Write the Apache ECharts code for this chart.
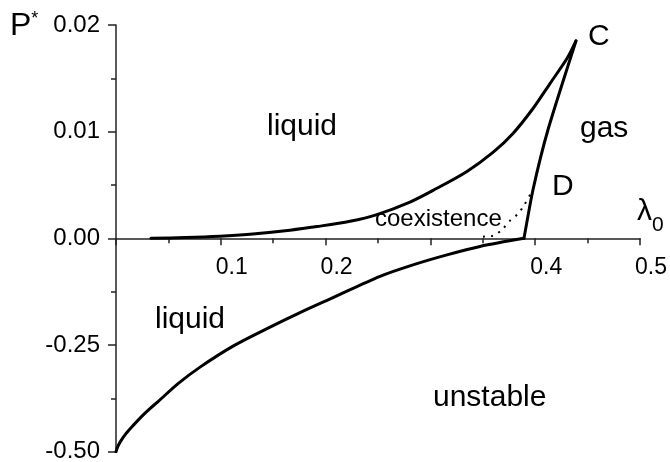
<!DOCTYPE html>
<html><head><meta charset="utf-8">
<script src="https://cdn.jsdelivr.net/npm/echarts@6/dist/echarts.min.js"></script>
<style>html,body{margin:0;padding:0;background:#fff}#c{width:670px;height:462px}</style>
</head><body><div id="c"></div>
<script>
// liquid / coexistence boundary (upper curve), lambda_0 and P*
var upperLam = [0.0334,0.0658,0.0992,0.1279,0.1660,0.1918,0.2233,0.2490,0.2805,0.3025,0.3349,0.3597,0.3788,0.3979,0.4141,0.4303,0.4389];
var upperP   = [0,0.000075,0.000206,0.000393,0.000768,0.001105,0.001600,0.002230,0.003400,0.004494,0.006273,0.008052,0.009831,0.012172,0.014513,0.016854,0.018511];
// gas boundary (C down to the spinodal point)
var gasLam = [0.4389,0.4122,0.3979,0.3893];
var gasP   = [0.0185,0.01018,0.00456,0];
// dotted boundary near D
var dotLam = [0.3502,0.3597,0.3683,0.376,0.3836,0.3893,0.3979];
var dotP   = [0.00016,0.00025,0.00081,0.00166,0.0023,0.0031,0.00456];
// liquid / unstable boundary (negative pressure)
var lowerLam = [0,0.0019,0.0048,0.0095,0.0162,0.0248,0.0324,0.0401,0.0592,0.0802,0.1117,0.1441,0.1756,0.2071,0.2519,0.2834,0.3158,0.3473,0.3893];
var lowerP   = [-0.5,-0.4869,-0.474,-0.4576,-0.4389,-0.4166,-0.399,-0.3826,-0.3405,-0.3018,-0.2526,-0.2116,-0.1741,-0.1389,-0.089,-0.0621,-0.0387,-0.019,0];
// y tick labels (piecewise scale: upper half 0..0.02, lower half 0..-0.50)
var yTickVals = [-2,-1,0,1,2];
var yTickLabels = ['-0.50','-0.25','0.00','0.01','0.02'];
var xHidden = [0,0.3];

function ty(p){ return p >= 0 ? p/0.01 : p/0.25; }
function pts(l, p){ return l.map(function(v,i){ return [v, ty(p[i])]; }); }

var FONT = '"Liberation Sans", Arial, sans-serif';
var chart = echarts.init(document.getElementById('c'));
var lineCommon = {type:'line', symbol:'none', smooth:0.3, lineStyle:{color:'#000', width:3, join:'round', cap:'round'}, silent:true, animation:false};

function txt(s, x, y, size){
  return {type:'text', x:x, y:y, style:{text:s, font: size+'px '+FONT, fill:'#000', textAlign:'left', textVerticalAlign:'middle'}};
}

var GRID_TOP = 25, GRID_BOTTOM = 10.3, H = 462;
var plotH = H - GRID_TOP - GRID_BOTTOM;

chart.setOption({
  animation:false,
  grid:{left:116, right:30, top:GRID_TOP, bottom:GRID_BOTTOM, containLabel:false, outerBoundsMode:'none'},
  xAxis:{type:'value', min:0, max:0.5, interval:0.1, position:'bottom', offset:-plotH/2,
    axisLine:{onZero:false, lineStyle:{color:'#222', width:1.5}},
    axisTick:{show:true, length:7, lineStyle:{color:'#222', width:1.5}},
    minorTick:{show:true, splitNumber:2, length:5, lineStyle:{color:'#222', width:1.5}},
    splitLine:{show:false},
    axisLabel:{fontFamily:FONT, fontSize:23, color:'#000', margin:18, padding:[0,0,0,22],
      formatter:function(v){ for(var i=0;i<xHidden.length;i++){ if(Math.abs(v-xHidden[i])<1e-9) return ''; } return v.toFixed(1); }}
  },
  yAxis:{type:'value', min:-2, max:2, interval:1,
    axisLine:{onZero:false, lineStyle:{color:'#222', width:1.5}},
    axisTick:{show:true, length:8, lineStyle:{color:'#222', width:1.5}},
    minorTick:{show:true, splitNumber:2, length:5, lineStyle:{color:'#222', width:1.5}},
    splitLine:{show:false},
    axisLabel:{fontFamily:FONT, fontSize:24, color:'#000', margin:16,
      formatter:function(v){ var i=yTickVals.indexOf(Math.round(v)); return i>=0 ? yTickLabels[i] : ''; }}
  },
  series:[
    Object.assign({}, lineCommon, {data:pts(upperLam, upperP)}),
    Object.assign({}, lineCommon, {data:pts(gasLam, gasP), smooth:0.2}),
    Object.assign({}, lineCommon, {data:pts(lowerLam, lowerP)}),
    Object.assign({}, lineCommon, {data:pts(dotLam, dotP), lineStyle:{color:'#000', width:2, type:[2,6]}})
  ],
  graphic:[
    {type:'text', x:10, y:26, style:{rich:{p:{fontSize:32, fontFamily:FONT}, s:{fontSize:18, fontFamily:FONT, verticalAlign:'top', padding:[0,0,14,0]}}, text:'{p|P}{s|*}', fill:'#000', textVerticalAlign:'middle'}},
    {type:'text', x:637, y:212, style:{rich:{l:{fontSize:30, fontFamily:FONT}, s:{fontSize:21, fontFamily:FONT, padding:[26,0,0,0]}}, text:'{l|λ}{s|0}', fill:'#000', textVerticalAlign:'middle'}},
    txt('liquid', 267, 127, 30),
    txt('liquid', 155, 320, 30),
    txt('gas', 580, 129, 30),
    txt('coexistence', 375, 219, 24),
    txt('D', 552, 187, 30),
    txt('C', 588, 37, 30),
    txt('unstable', 433, 398, 30)
  ]
});
</script></body></html>
